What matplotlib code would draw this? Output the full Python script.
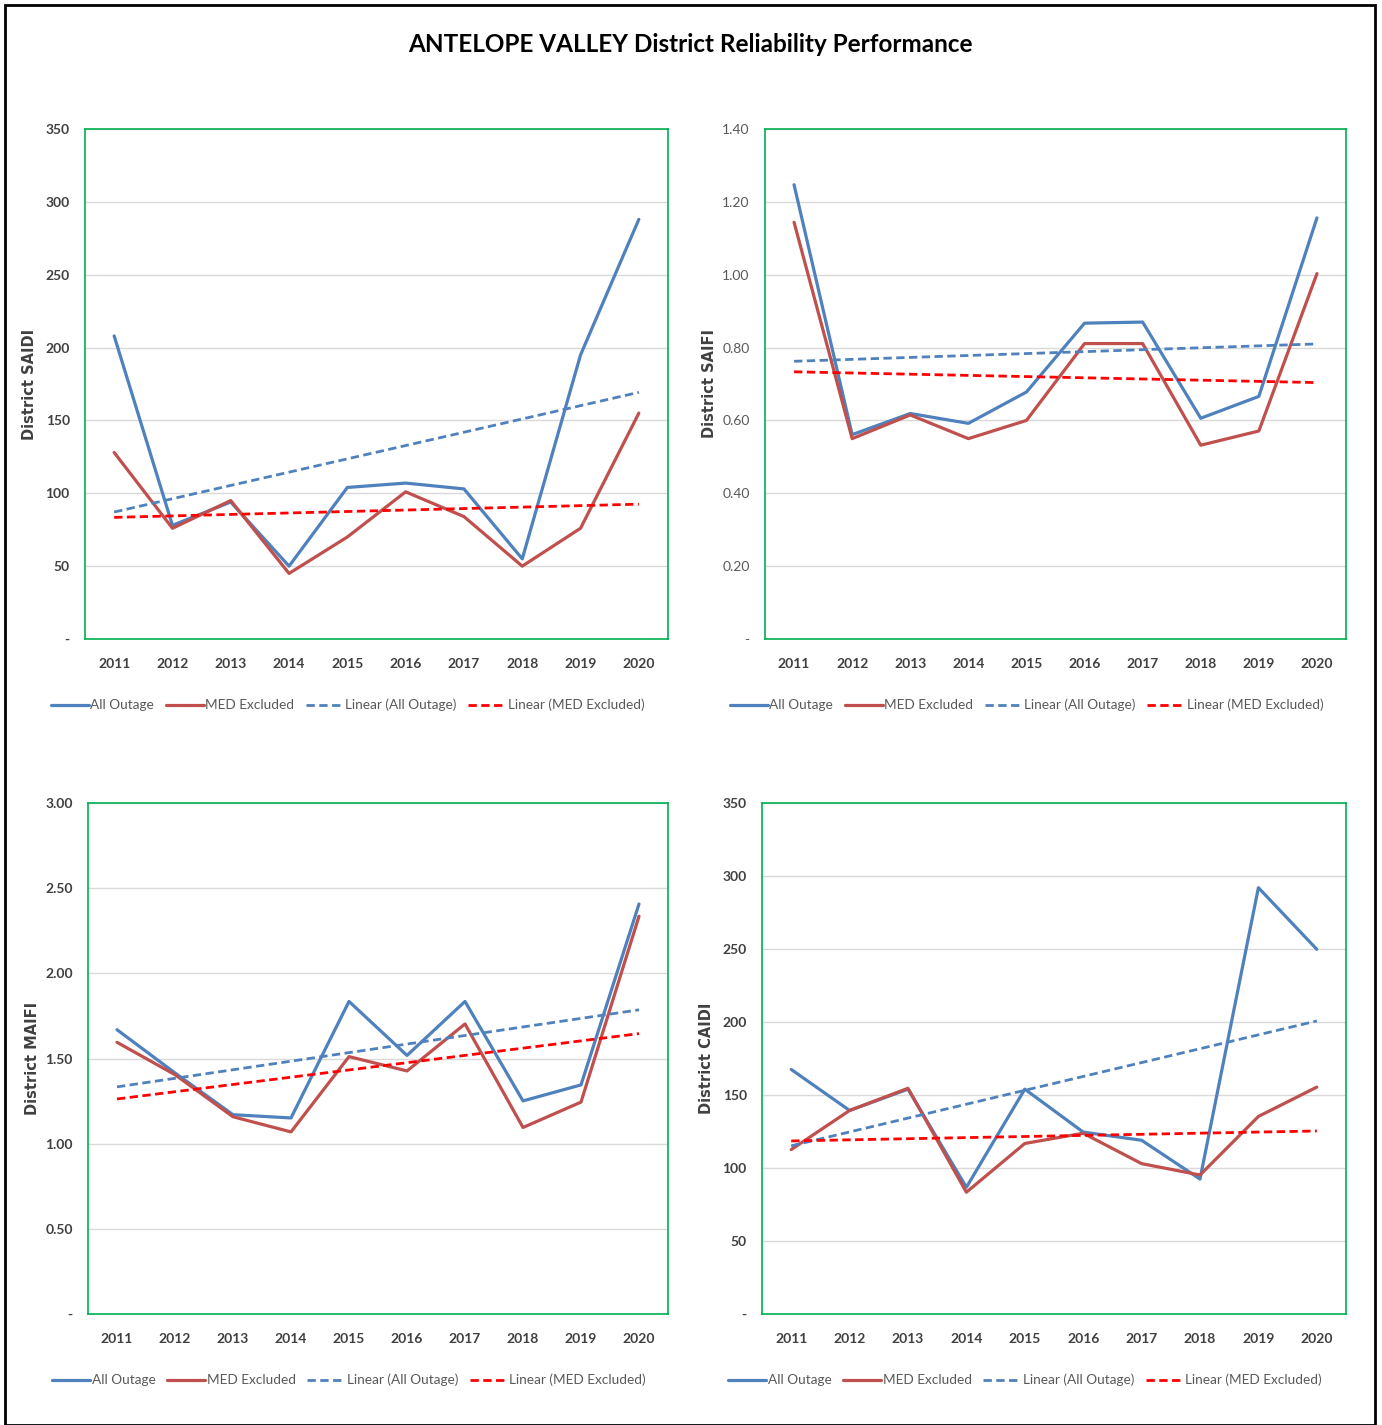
import numpy as np
import matplotlib
matplotlib.use("Agg")
import matplotlib.pyplot as plt
from matplotlib.patches import Rectangle
from matplotlib.ticker import FixedLocator, FuncFormatter

plt.rcParams['font.family'] = ['Lato', 'DejaVu Sans']

years = [2011, 2012, 2013, 2014, 2015, 2016, 2017, 2018, 2019, 2020]

saidi_all = [208, 78, 94, 50, 104, 107, 103, 55, 195, 288]
saidi_med = [128, 76, 95, 45, 70, 101, 84, 50, 76, 155]

saifi_all = [1.247, 0.561, 0.619, 0.592, 0.678, 0.867, 0.870, 0.606, 0.666, 1.156]
saifi_med = [1.144, 0.550, 0.615, 0.550, 0.600, 0.811, 0.811, 0.532, 0.571, 1.003]

maifi_all = [1.669, 1.415, 1.170, 1.151, 1.835, 1.518, 1.835, 1.251, 1.345, 2.407]
maifi_med = [1.595, 1.405, 1.158, 1.069, 1.511, 1.427, 1.703, 1.095, 1.244, 2.335]

caidi_all = [167.5, 139.4, 154.0, 86.8, 154.0, 124.6, 119.0, 92.4, 292.0, 249.8]
caidi_med = [112.6, 139.4, 154.6, 83.4, 116.8, 123.8, 103.0, 95.2, 135.3, 155.4]

series_names = ["All Outage", "MED Excluded", "Linear (All Outage)", "Linear (MED Excluded)"]

BLUE = "#4F81BD"
RED = "#C0504D"
TRED = "#FF0000"
GREEN = "#00B050"
W, H = 1382, 1425

fig = plt.figure(figsize=(W / 100, H / 100), dpi=100)
fig.patch.set_facecolor("white")
fig.patches.append(Rectangle((5 / W, 0), (1375 - 5) / W, 1 - 5 / H, transform=fig.transFigure,
                             fill=False, edgecolor="black", linewidth=2))

fig.text(690 / W, 1 - 45 / H, "ANTELOPE VALLEY District Reliability Performance",
         ha="center", va="center", fontsize=17.5, fontweight="bold", color="black")


def panel(box, all_v, med_v, ymax, step, fmt, ylabel, ybold=True):
    l, r, t, b = box
    ax = fig.add_axes([l / W, 1 - b / H, (r - l) / W, (b - t) / H])
    x = np.arange(len(years))
    ax.plot(x, all_v, color=BLUE, lw=2.3, label=series_names[0], solid_capstyle="round")
    ax.plot(x, med_v, color=RED, lw=2.3, label=series_names[1], solid_capstyle="round")
    # excel style linear trendlines
    p1 = np.polyfit(x, all_v, 1)
    p2 = np.polyfit(x, med_v, 1)
    ax.plot(x, np.polyval(p1, x), color=BLUE, lw=2.0, ls=(0, (3, 1.6)), label=series_names[2])
    ax.plot(x, np.polyval(p2, x), color=TRED, lw=2.0, ls=(0, (3, 1.6)), label=series_names[3])
    ax.set_xlim(-0.5, len(years) - 0.5)
    ax.set_ylim(0, ymax)
    ticks = np.arange(0, ymax + step / 2, step)
    ax.yaxis.set_major_locator(FixedLocator(ticks))
    ax.yaxis.set_major_formatter(FuncFormatter(lambda v, p: "-" if abs(v) < 1e-9 else fmt.format(v)))
    ax.set_xticks(x)
    ax.set_xticklabels([str(y) for y in years])
    ax.grid(axis="y", color="#D9D9D9", lw=1)
    ax.set_axisbelow(True)
    for s in ax.spines.values():
        s.set_color(GREEN)
        s.set_linewidth(1.2)
    ax.tick_params(axis="both", length=0, labelsize=10)
    ax.tick_params(axis="x", pad=14, colors="#404040")
    ax.tick_params(axis="y", pad=11, colors="#404040" if ybold else "#595959")
    for lab in ax.get_xticklabels():
        lab.set_fontweight("bold")
    if ybold:
        for lab in ax.get_yticklabels():
            lab.set_fontweight("bold")
    ax.set_ylabel(ylabel, family="DejaVu Sans", fontsize=10.5, fontweight="bold", color="#404040")
    ax.yaxis.set_label_coords(-48 / (r - l), 0.5)
    leg = ax.legend(loc="center", bbox_to_anchor=(0.5 - 29 / (r - l), -66 / (b - t)), ncol=4,
                    frameon=False, fontsize=9.8, handlelength=2.8, handletextpad=0.1,
                    columnspacing=0.85)
    for tx in leg.get_texts():
        tx.set_color("#595959")
    return ax


panel((85, 668, 129, 639), saidi_all, saidi_med, 350, 50, "{:.0f}", "District SAIDI")
panel((765, 1346, 129, 639), saifi_all, saifi_med, 1.40, 0.20, "{:.2f}", "District SAIFI", ybold=False)
panel((88, 668, 803, 1314), maifi_all, maifi_med, 3.00, 0.50, "{:.2f}", "District MAIFI")
panel((762, 1346, 803, 1314), caidi_all, caidi_med, 350, 50, "{:.0f}", "District CAIDI")

fig.savefig("out.png", dpi=100)
